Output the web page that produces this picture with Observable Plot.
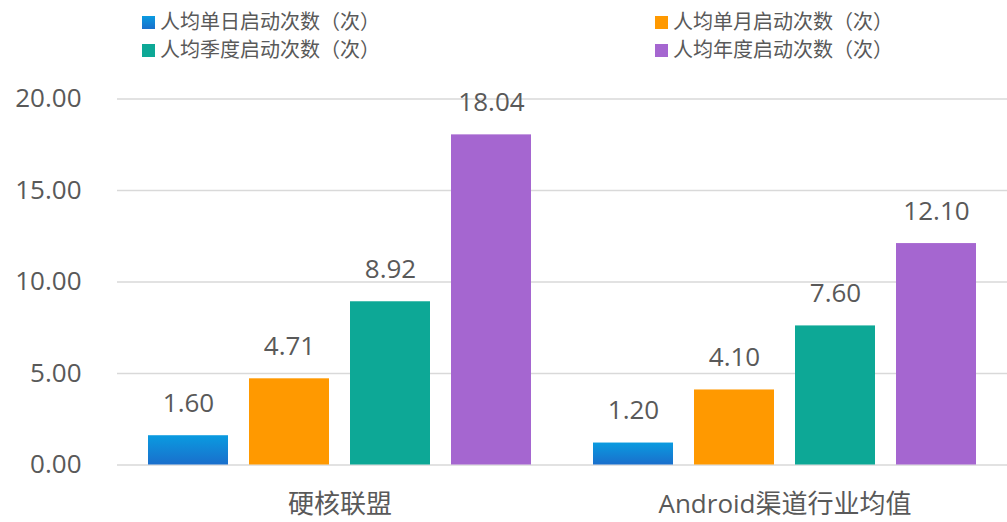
<!DOCTYPE html>
<html>
<head>
<meta charset="utf-8">
<script src="https://cdn.jsdelivr.net/npm/d3@7"></script>
<script src="https://cdn.jsdelivr.net/npm/@observablehq/plot@0.6"></script>
<style>
  html, body { margin: 0; padding: 0; background: #fff; }
  body { width: 1007px; height: 522px; overflow: hidden; font-family: "Open Sans", "Noto Sans CJK SC", sans-serif; color: #595959; }
  #legend { position: relative; height: 62px; width: 1007px; }
  .item { position: absolute; display: flex; align-items: center; font-size: 20px; line-height: 24px; white-space: nowrap; }
  .sw { width: 13px; height: 13px; margin-right: 5px; }
  #chart svg { display: block; }
</style>
</head>
<body>
<div id="legend"></div>
<div id="chart"></div>
<script>
const groups = ["硬核联盟", "Android渠道行业均值"];
const series = ["人均单日启动次数（次）", "人均单月启动次数（次）", "人均季度启动次数（次）", "人均年度启动次数（次）"];
const valuesHardcore = [1.60, 4.71, 8.92, 18.04];
const valuesAndroid = [1.20, 4.10, 7.60, 12.10];
const colors = ["url(#blueGrad)", "#FF9900", "#0DA896", "#A566D0"];
const legendColors = ["linear-gradient(#0A9BE0, #1A6FCC)", "#FF9900", "#0DA896", "#A566D0"];
const yTicks = [0, 5, 10, 15, 20];

const data = [];
series.forEach((s, i) => {
  data.push({group: groups[0], series: s, value: valuesHardcore[i]});
  data.push({group: groups[1], series: s, value: valuesAndroid[i]});
});

// legend
const legendPos = [[142, 10], [655, 10], [142, 38], [655, 38]];
const legend = document.getElementById("legend");
series.forEach((s, i) => {
  const d = document.createElement("div");
  d.className = "item";
  d.style.left = legendPos[i][0] + "px";
  d.style.top = legendPos[i][1] + "px";
  d.innerHTML = `<span class="sw" style="background:${legendColors[i]}"></span><span>${s}</span>`;
  legend.appendChild(d);
});

const chart = Plot.plot({
  width: 1007,
  height: 460,
  marginLeft: 116,
  marginRight: 0,
  marginTop: 36.5,
  marginBottom: 57.5,
  style: {fontFamily: "'Open Sans', 'Noto Sans CJK SC', sans-serif", fontSize: "26px", color: "#595959", background: "#fff"},
  fx: {domain: groups, paddingInner: 0, paddingOuter: 0, label: null, axis: null},
  x: {domain: series, paddingInner: 0.21, paddingOuter: 0.29, axis: null},
  y: {domain: [0, 20], ticks: yTicks, label: null},
  color: {domain: series, range: colors},
  marks: [
    Plot.gridY(yTicks, {stroke: "#D9D9D9", strokeOpacity: 1, strokeWidth: 1.5}),
    Plot.axisY(yTicks, {tickFormat: d3.format(".2f"), tickSize: 0, tickPadding: 36, fontSize: 26, fill: "#595959"}),
    Plot.axisFx({anchor: "bottom", tickSize: 0, tickPadding: 30, fontSize: 26, fill: "#595959", label: null}),
    Plot.barY(data, {fx: "group", x: "series", y: "value", fill: "series"}),
    Plot.text(data, {fx: "group", x: "series", y: "value", text: d => d3.format(".2f")(d.value), lineAnchor: "bottom", dy: -24, fontSize: 26, fill: "#595959"})
  ]
});

const defs = document.createElementNS("http://www.w3.org/2000/svg", "defs");
defs.innerHTML = `<linearGradient id="blueGrad" x1="0" y1="0" x2="0" y2="1"><stop offset="0" stop-color="#0A9BE0"/><stop offset="1" stop-color="#1A6FCC"/></linearGradient>`;
chart.insertBefore(defs, chart.firstChild);
document.getElementById("chart").appendChild(chart);
</script>
</body>
</html>
